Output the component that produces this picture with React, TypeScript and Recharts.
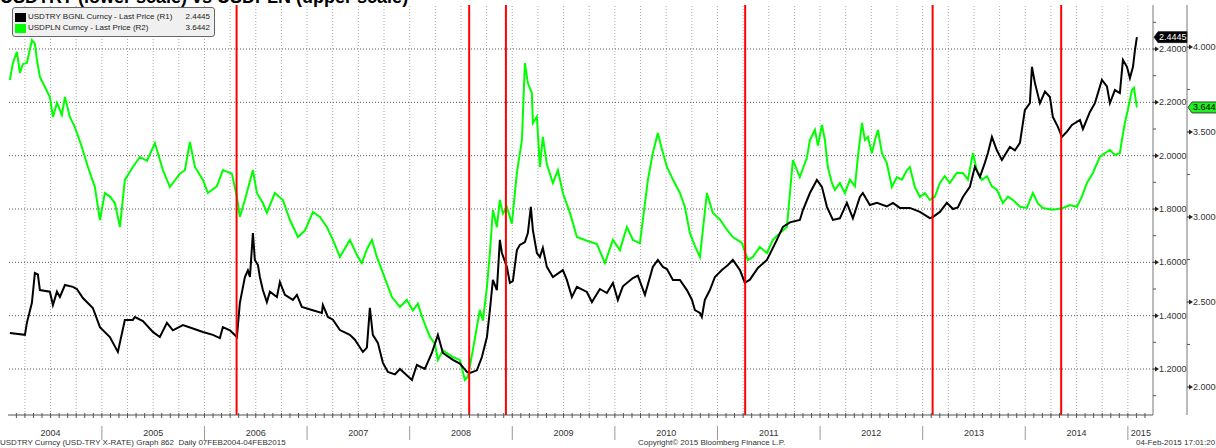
import React from "react";
import {
  LineChart,
  Line,
  XAxis,
  YAxis,
  ReferenceLine,
  ReferenceDot,
} from "recharts";

// USDTRY (R1) — decimal year / last price
const tryT = [
  2004.103, 2004.25, 2004.269, 2004.318, 2004.347, 2004.376, 2004.396, 2004.493, 2004.523, 2004.562,
  2004.591, 2004.64, 2004.718, 2004.756, 2004.815, 2004.912, 2004.981, 2005.078, 2005.156, 2005.224,
  2005.302, 2005.322, 2005.4, 2005.497, 2005.565, 2005.634, 2005.692, 2005.79, 2005.887, 2005.985,
  2006.082, 2006.15, 2006.179, 2006.248, 2006.316, 2006.345, 2006.394, 2006.423, 2006.443, 2006.472,
  2006.491, 2006.521, 2006.54, 2006.569, 2006.608, 2006.638, 2006.706, 2006.735, 2006.784, 2006.862,
  2006.901, 2006.949, 2007.047, 2007.144, 2007.154, 2007.203, 2007.252, 2007.32, 2007.417, 2007.466,
  2007.544, 2007.583, 2007.612, 2007.641, 2007.69, 2007.739, 2007.788, 2007.856, 2007.905, 2008.022,
  2008.07, 2008.148, 2008.216, 2008.275, 2008.324, 2008.421, 2008.489, 2008.558, 2008.587, 2008.655,
  2008.704, 2008.753, 2008.782, 2008.811, 2008.85, 2008.879, 2008.899, 2008.947, 2008.977, 2009.006,
  2009.045, 2009.074, 2009.123, 2009.152, 2009.181, 2009.201, 2009.24, 2009.269, 2009.298, 2009.337,
  2009.396, 2009.493, 2009.532, 2009.581, 2009.63, 2009.727, 2009.776, 2009.854, 2009.922, 2009.981,
  2010.029, 2010.078, 2010.176, 2010.224, 2010.293, 2010.37, 2010.419, 2010.468, 2010.507, 2010.566,
  2010.634, 2010.702, 2010.751, 2010.78, 2010.829, 2010.848, 2010.877, 2010.926, 2010.975, 2011.043,
  2011.102, 2011.15, 2011.219, 2011.267, 2011.316, 2011.394, 2011.482, 2011.579, 2011.638, 2011.706,
  2011.803, 2011.833, 2011.901, 2011.969, 2012.018, 2012.067, 2012.125, 2012.193, 2012.261, 2012.32,
  2012.388, 2012.417, 2012.485, 2012.554, 2012.651, 2012.71, 2012.778, 2012.875, 2012.973, 2013.07,
  2013.099, 2013.168, 2013.236, 2013.295, 2013.343, 2013.392, 2013.46, 2013.509, 2013.558, 2013.606,
  2013.636, 2013.675, 2013.723, 2013.772, 2013.85, 2013.899, 2013.948, 2013.996, 2014.045, 2014.065,
  2014.094, 2014.143, 2014.192, 2014.24, 2014.269, 2014.318, 2014.357, 2014.406, 2014.455, 2014.533,
  2014.562, 2014.63, 2014.679, 2014.747, 2014.796, 2014.825, 2014.874, 2014.922, 2014.952, 2014.991,
  2015.02, 2015.05, 2015.069, 2015.088,
];
const tryV = [
  1.335, 1.328, 1.373, 1.448, 1.56, 1.555, 1.496, 1.49, 1.44, 1.49,
  1.47, 1.515, 1.508, 1.5, 1.466, 1.429, 1.357, 1.32, 1.264, 1.384,
  1.384, 1.395, 1.38, 1.339, 1.32, 1.373, 1.345, 1.365, 1.352, 1.339,
  1.328, 1.316, 1.357, 1.345, 1.32, 1.448, 1.545, 1.57, 1.545, 1.71,
  1.609, 1.59, 1.545, 1.496, 1.451, 1.49, 1.47, 1.526, 1.478, 1.459,
  1.478, 1.433, 1.421, 1.41, 1.44, 1.395, 1.385, 1.346, 1.328, 1.31,
  1.264, 1.28, 1.429, 1.328, 1.298, 1.223, 1.189, 1.18, 1.2, 1.159,
  1.215, 1.2, 1.26, 1.328, 1.26, 1.234, 1.22, 1.189, 1.185, 1.195,
  1.245, 1.32, 1.421, 1.534, 1.496, 1.684, 1.635, 1.583, 1.523, 1.53,
  1.646, 1.665, 1.676, 1.71, 1.808, 1.721, 1.635, 1.62, 1.654, 1.583,
  1.545, 1.571, 1.534, 1.47, 1.508, 1.489, 1.451, 1.5, 1.485, 1.523,
  1.459, 1.51, 1.541, 1.55, 1.478, 1.583, 1.609, 1.583, 1.575, 1.534,
  1.534, 1.496, 1.46, 1.421, 1.41, 1.395, 1.459, 1.496, 1.545, 1.571,
  1.59, 1.609, 1.571, 1.523, 1.535, 1.579, 1.609, 1.684, 1.733, 1.75,
  1.759, 1.796, 1.86, 1.909, 1.883, 1.808, 1.759, 1.765, 1.823, 1.765,
  1.845, 1.86, 1.815, 1.823, 1.81, 1.823, 1.804, 1.804, 1.789, 1.766,
  1.77, 1.789, 1.823, 1.8, 1.806, 1.845, 1.883, 1.958, 1.92, 1.973,
  2.01, 2.07, 2.02, 1.984, 2.033, 2.02, 2.048, 2.171, 2.197, 2.333,
  2.273, 2.197, 2.24, 2.22, 2.145, 2.108, 2.07, 2.09, 2.115, 2.134,
  2.1, 2.164, 2.197, 2.284, 2.26, 2.197, 2.246, 2.235, 2.359, 2.333,
  2.291, 2.333, 2.396, 2.4445,
];

// USDPLN (R2)
const plnT = [
  2004.103, 2004.133, 2004.172, 2004.201, 2004.23, 2004.269, 2004.318, 2004.347, 2004.367, 2004.396,
  2004.445, 2004.493, 2004.523, 2004.562, 2004.61, 2004.64, 2004.688, 2004.737, 2004.805, 2004.864,
  2004.932, 2004.981, 2005.029, 2005.078, 2005.127, 2005.176, 2005.224, 2005.302, 2005.371, 2005.439,
  2005.517, 2005.595, 2005.663, 2005.76, 2005.809, 2005.858, 2005.907, 2005.985, 2006.033, 2006.121,
  2006.179, 2006.267, 2006.316, 2006.345, 2006.394, 2006.472, 2006.511, 2006.569, 2006.608, 2006.686,
  2006.764, 2006.833, 2006.911, 2006.979, 2007.057, 2007.125, 2007.193, 2007.252, 2007.32, 2007.417,
  2007.495, 2007.534, 2007.583, 2007.632, 2007.68, 2007.739, 2007.827, 2007.905, 2007.973, 2008.031,
  2008.08, 2008.128, 2008.197, 2008.246, 2008.275, 2008.324, 2008.421, 2008.489, 2008.538, 2008.567,
  2008.616, 2008.684, 2008.714, 2008.753, 2008.782, 2008.811, 2008.85, 2008.879, 2008.909, 2008.947,
  2008.996, 2009.045, 2009.094, 2009.123, 2009.152, 2009.191, 2009.201, 2009.24, 2009.269, 2009.298,
  2009.337, 2009.396, 2009.445, 2009.493, 2009.562, 2009.63, 2009.727, 2009.825, 2009.903, 2009.981,
  2010.049, 2010.117, 2010.176, 2010.244, 2010.322, 2010.37, 2010.419, 2010.458, 2010.507, 2010.566,
  2010.634, 2010.682, 2010.731, 2010.78, 2010.829, 2010.897, 2010.955, 2011.024, 2011.092, 2011.15,
  2011.238, 2011.296, 2011.345, 2011.413, 2011.482, 2011.54, 2011.608, 2011.677, 2011.735, 2011.803,
  2011.872, 2011.901, 2011.95, 2011.979, 2012.018, 2012.047, 2012.076, 2012.115, 2012.145, 2012.193,
  2012.242, 2012.291, 2012.34, 2012.369, 2012.408, 2012.437, 2012.466, 2012.505, 2012.535, 2012.564,
  2012.603, 2012.651, 2012.7, 2012.749, 2012.798, 2012.846, 2012.875, 2012.924, 2012.973, 2013.022,
  2013.07, 2013.119, 2013.168, 2013.216, 2013.265, 2013.333, 2013.392, 2013.441, 2013.49, 2013.528,
  2013.577, 2013.626, 2013.675, 2013.723, 2013.782, 2013.831, 2013.88, 2013.948, 2014.016, 2014.074,
  2014.123, 2014.172, 2014.269, 2014.367, 2014.435, 2014.503, 2014.552, 2014.601, 2014.659, 2014.727,
  2014.776, 2014.825, 2014.874, 2014.922, 2014.942, 2014.971, 2015.0, 2015.04, 2015.059, 2015.088,
];
const plnV = [
  3.806, 3.906, 3.971, 3.847, 3.9, 3.906, 4.04, 4.02, 3.924, 3.824,
  3.765, 3.706, 3.588, 3.671, 3.6, 3.706, 3.588, 3.529, 3.412, 3.294,
  3.176, 2.982, 3.141, 3.12, 3.082, 2.941, 3.218, 3.294, 3.353, 3.33,
  3.435, 3.276, 3.176, 3.255, 3.275, 3.441, 3.294, 3.218, 3.141, 3.18,
  3.276, 3.255, 3.118, 3.0, 3.1, 3.276, 3.141, 3.082, 3.024, 3.141,
  3.1, 2.982, 2.882, 2.92, 3.029, 3.0, 2.941, 2.865, 2.765, 2.865,
  2.765, 2.729, 2.81, 2.865, 2.765, 2.671, 2.529, 2.471, 2.512, 2.45,
  2.49, 2.4, 2.294, 2.255, 2.159, 2.215, 2.176, 2.159, 2.041, 2.06,
  2.218, 2.453, 2.39, 2.588, 2.788, 3.041, 2.94, 3.1, 3.02, 3.059,
  2.96, 3.259, 3.453, 3.906, 3.788, 3.73, 3.553, 3.59, 3.294, 3.471,
  3.31, 3.2, 3.275, 3.141, 3.024, 2.882, 2.86, 2.84, 2.729, 2.865,
  2.805, 2.941, 2.865, 2.845, 3.218, 3.376, 3.494, 3.4, 3.294, 3.22,
  3.141, 3.059, 2.906, 2.83, 2.765, 3.141, 3.024, 2.985, 2.925, 2.882,
  2.847, 2.747, 2.765, 2.824, 2.788, 2.865, 2.905, 2.941, 3.335, 3.235,
  3.35, 3.453, 3.512, 3.42, 3.541, 3.453, 3.294, 3.2, 3.159, 3.2,
  3.14, 3.22, 3.18, 3.353, 3.553, 3.453, 3.471, 3.375, 3.453, 3.512,
  3.375, 3.315, 3.176, 3.235, 3.22, 3.275, 3.294, 3.176, 3.118, 3.14,
  3.1, 3.12, 3.2, 3.24, 3.2, 3.26, 3.259, 3.22, 3.376, 3.275,
  3.218, 3.24, 3.18, 3.16, 3.082, 3.12, 3.1, 3.06, 3.053, 3.141,
  3.08, 3.053, 3.043, 3.053, 3.07, 3.06, 3.12, 3.2, 3.259, 3.353,
  3.375, 3.394, 3.365, 3.375, 3.453, 3.553, 3.629, 3.747, 3.76, 3.6442,
];

// red event markers
const eventDates = [2006.313, 2008.58, 2008.938, 2011.27, 2013.097, 2014.35];

const years = [2004, 2005, 2006, 2007, 2008, 2009, 2010, 2011, 2012, 2013, 2014, 2015];
const r1Ticks = [1.1, 1.2, 1.3, 1.4, 1.5, 1.6, 1.7, 1.8, 1.9, 2.0, 2.1, 2.2, 2.3, 2.4, 2.5];
const r2Ticks = [2.0, 2.25, 2.5, 2.75, 3.0, 3.25, 3.5, 3.75, 4.0];
const r1Grid = [1.2, 1.4, 1.6, 1.8, 2.0, 2.2, 2.4];

const X_DOMAIN: [number, number] = [2004.085, 2015.245];
const FONT = "'Liberation Sans', Arial, sans-serif";

const tryData = tryT.map((t, i) => ({ t, v: tryV[i] }));
const plnData = plnT.map((t, i) => ({ t, v: plnV[i] }));

const monthTicks: number[] = [];
years.forEach((y) => {
  for (let m = 0; m < 12; m++) {
    const v = y + m / 12;
    if (v >= X_DOMAIN[0] && v <= X_DOMAIN[1]) monthTicks.push(v);
  }
});
const quarterLines = monthTicks.filter((v) => {
  const m = Math.round((v - Math.floor(v + 1e-6)) * 12);
  return m % 3 === 0;
});

const XTick = (p: any) => {
  const v = p.payload.value;
  const yr = Math.floor(v + 1e-6);
  const m = Math.round((v - yr) * 12);
  return (
    <g>
      <line x1={p.x} x2={p.x} y1={p.y - 2} y2={p.y + 3} stroke="#555" />
      {m === 0 && <line x1={p.x} x2={p.x} y1={p.y + 11} y2={p.y + 25} stroke="#999" />}
      {m === 6 && (
        <text x={p.x} y={p.y + 21} textAnchor="middle" fontSize={9} fontFamily={FONT} fill="#333">
          {yr}
        </text>
      )}
      {m === 0 && yr === years[years.length - 1] && (
        <text x={p.x + 3} y={p.y + 21} textAnchor="start" fontSize={9} fontFamily={FONT} fill="#333">
          {yr}
        </text>
      )}
    </g>
  );
};

const makeYTick = (isMajor: (v: number) => boolean) => (p: any) => {
  const v = p.payload.value;
  if (!isMajor(v)) {
    return <line x1={p.x} x2={p.x + 3} y1={p.y} y2={p.y} stroke="#555" />;
  }
  return (
    <g>
      <path d={`M${p.x},${p.y - 0.5} L${p.x + 2},${p.y - 0.5} L${p.x + 2},${p.y - 2.5} L${p.x + 6},${p.y} L${p.x + 2},${p.y + 2.5} L${p.x + 2},${p.y + 0.5} L${p.x},${p.y + 0.5}Z`} fill="#222" />
      <text x={p.x + 6} y={p.y + 3} fontSize={9} fontFamily={FONT} fill="#333">
        {v.toFixed(4)}
      </text>
    </g>
  );
};
const R1Tick = makeYTick((v) => Math.round(v * 10) % 2 === 0);
const R2Tick = makeYTick((v) => Math.round(v * 4) % 2 === 0);

const badge = (value: number, offset: number, fill: string, color: string) => (p: any) => {
  const x = p.cx + offset;
  const y = p.cy;
  return (
    <g>
      <path
        d={`M${x + 1},${y} L${x + 5},${y - 5.5} L${x + 34},${y - 5.5} L${x + 34},${y + 5.5} L${x + 5},${y + 5.5}Z`}
        fill={fill}
        stroke="#222"
        strokeWidth={0.8}
      />
      <text x={x + 6} y={y + 3} fontSize={9} fontFamily={FONT} fill={color}>
        {value.toFixed(4)}
      </text>
    </g>
  );
};

export default function App() {
  const tryLast = tryV[tryV.length - 1];
  const plnLast = plnV[plnV.length - 1];
  return (
    <div
      style={{
        position: "absolute",
        left: 0,
        top: 0,
        width: 1216,
        height: 448,
        background: "#fff",
        overflow: "hidden",
        fontFamily: FONT,
      }}
    >
      <div
        style={{
          position: "absolute",
          left: 0,
          top: -12,
          fontSize: 18,
          fontWeight: "bold",
          lineHeight: "18px",
          whiteSpace: "nowrap",
          color: "#000",
        }}
      >
        USDTRY (lower scale) vs USDPLN (upper scale)
      </div>

      <LineChart width={1216} height={448} margin={{ top: 5, right: 0, bottom: 0, left: 8 }}>
        <XAxis
          dataKey="t"
          type="number"
          domain={X_DOMAIN}
          allowDataOverflow
          ticks={monthTicks}
          interval={0}
          height={33}
          tick={XTick}
          tickLine={false}
          tickSize={0}
          tickMargin={0}
          axisLine={{ stroke: "#555" }}
        />
        <YAxis
          yAxisId="r1"
          orientation="right"
          domain={[1.0275, 2.565]}
          allowDataOverflow
          ticks={r1Ticks}
          interval={0}
          width={34}
          tick={R1Tick}
          tickLine={false}
          tickSize={0}
          tickMargin={0}
          axisLine={{ stroke: "#777" }}
        />
        <YAxis
          yAxisId="r2"
          orientation="right"
          domain={[1.835, 4.247]}
          allowDataOverflow
          ticks={r2Ticks}
          interval={0}
          width={29}
          tick={R2Tick}
          tickLine={false}
          tickSize={0}
          tickMargin={0}
          axisLine={{ stroke: "#777" }}
        />

        {quarterLines.map((q) => (
          <ReferenceLine key={`q${q}`} x={q} yAxisId="r1" stroke="#aaa" strokeDasharray="1 2" />
        ))}
        {r1Grid.map((g) => (
          <ReferenceLine key={`h${g}`} y={g} yAxisId="r1" stroke="#555" strokeDasharray="1 2" />
        ))}

        <Line
          data={plnData}
          dataKey="v"
          yAxisId="r2"
          type="linear"
          stroke="#00ff00"
          strokeWidth={2}
          dot={false}
          isAnimationActive={false}
        />
        <Line
          data={tryData}
          dataKey="v"
          yAxisId="r1"
          type="linear"
          stroke="#000"
          strokeWidth={2}
          dot={false}
          isAnimationActive={false}
        />

        {eventDates.map((d) => (
          <ReferenceLine key={`e${d}`} x={d} yAxisId="r1" stroke="#ff0000" strokeWidth={2} />
        ))}

        <ReferenceDot
          x={X_DOMAIN[1]}
          y={tryLast}
          yAxisId="r1"
          ifOverflow="visible"
          shape={badge(tryLast, 0, "#000", "#fff")}
        />
        <ReferenceDot
          x={X_DOMAIN[1]}
          y={plnLast}
          yAxisId="r2"
          ifOverflow="visible"
          shape={badge(plnLast, 34, "#22ee22", "#000")}
        />
      </LineChart>

      <div
        style={{
          position: "absolute",
          left: 12,
          top: 7,
          width: 201,
          height: 28,
          background: "#f0f0f0",
          border: "1px solid #666",
          borderRadius: 3,
          fontSize: 8,
          color: "#222",
        }}
      >
        <div style={{ position: "absolute", left: 2, top: 5, width: 11, height: 9, background: "#000" }} />
        <div style={{ position: "absolute", left: 15, top: 4, lineHeight: "10px" }}>
          USDTRY BGNL Curncy - Last Price (R1)
        </div>
        <div style={{ position: "absolute", right: 4, top: 4, lineHeight: "10px" }}>{tryLast.toFixed(4)}</div>
        <div style={{ position: "absolute", left: 2, top: 16, width: 11, height: 9, background: "#00ff00" }} />
        <div style={{ position: "absolute", left: 15, top: 15, lineHeight: "10px" }}>
          USDPLN Curncy - Last Price (R2)
        </div>
        <div style={{ position: "absolute", right: 4, top: 15, lineHeight: "10px" }}>{plnLast.toFixed(4)}</div>
      </div>

      <div style={{ position: "absolute", left: 0, top: 438, fontSize: 8, color: "#333", whiteSpace: "nowrap" }}>
        USDTRY Curncy (USD-TRY X-RATE) Graph 862&nbsp;&nbsp;Daily 07FEB2004-04FEB2015
      </div>
      <div style={{ position: "absolute", left: 638, top: 438, fontSize: 8, color: "#333", whiteSpace: "nowrap" }}>
        Copyright© 2015 Bloomberg Finance L.P.
      </div>
      <div style={{ position: "absolute", left: 1136, top: 438, fontSize: 8, color: "#333", whiteSpace: "nowrap" }}>
        04-Feb-2015 17:01:20
      </div>
    </div>
  );
}
